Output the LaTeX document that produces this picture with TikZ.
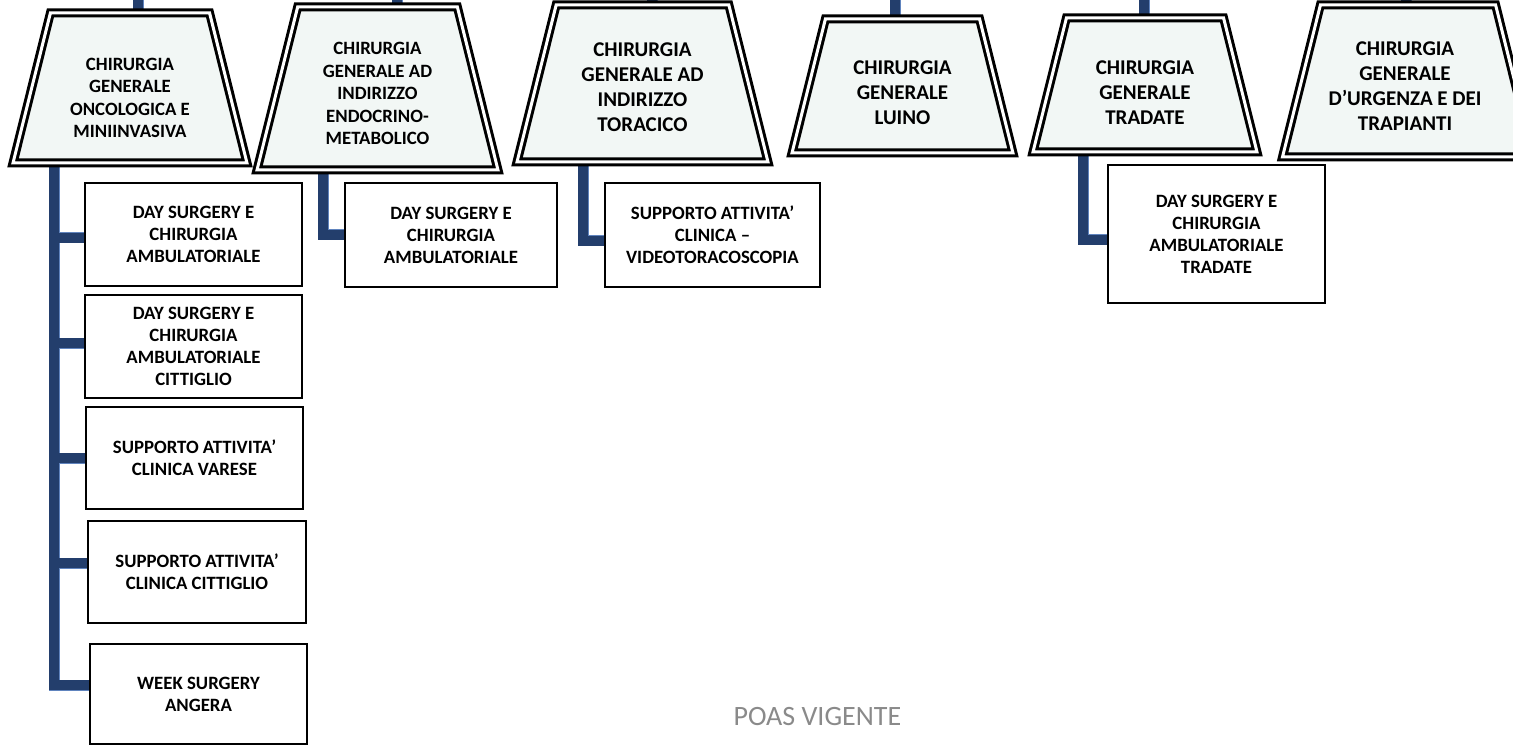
\documentclass[tikz,border=0pt]{standalone}
\usepackage{fontspec}
\setmainfont{Carlito}
\usetikzlibrary{shapes.geometric}
\usetikzlibrary{backgrounds}

\definecolor{unitfill}{RGB}{242,247,245}
\definecolor{busblue}{RGB}{35,62,108}
\definecolor{busedge}{RGB}{96,132,190}
\definecolor{footgrey}{RGB}{138,138,138}

\tikzset{
  unit/.style={trapezium, trapezium left angle=76, trapezium right angle=76,
    trapezium stretches body, draw=black, line width=3pt, double=white,
    double distance=3pt, fill=unitfill, inner xsep=0pt},
  unittext/.style={font=\bfseries\fontsize{18.8}{22.5}\selectfont, align=center},
  bigtext/.style={font=\bfseries\fontsize{21}{25}\selectfont, align=center},
  subunit/.style={rectangle, draw=black, line width=1.8pt, fill=white, align=center,
    inner sep=0pt, minimum width=217pt, minimum height=103pt,
    font=\bfseries\fontsize{18.8}{22}\selectfont},
  busrim/.style={draw=busedge, line width=11pt},
  buscore/.style={draw=busblue, line width=9.2pt},
  foot/.style={font=\fontsize{28}{32}\selectfont, text=footgrey}
}

\begin{document}
\begin{tikzpicture}[x=1pt,y=-1pt]
  \useasboundingbox (0,0) rectangle (1513,746);

  % strutture complesse
  \node [unit, minimum width=234pt, inner ysep=75pt] (onc) at (130,88) {};
  \node [unit, minimum width=241pt, inner ysep=81.5pt] (end) at (377.5,88.5) {};
  \node [unit, minimum width=251pt, inner ysep=78.5pt] (tor) at (642.5,83.5) {};
  \node [unit, minimum width=221pt, inner ysep=67pt] (lui) at (902.5,86) {};
  \node [unit, minimum width=224pt, inner ysep=67pt] (tra) at (1145,85) {};
  \node [unit, minimum width=251pt, inner ysep=76pt] (urg) at (1408,81) {};

  \node [unittext] (onc-t) at ([yshift=-10pt]onc.center) {CHIRURGIA\\GENERALE\\ONCOLOGICA E\\MINIINVASIVA};
  \node [unittext] (end-t) at ([yshift=-5pt]end.center) {CHIRURGIA\\GENERALE AD\\INDIRIZZO\\ENDOCRINO-\\METABOLICO};
  \node [bigtext] (tor-t) at ([yshift=-4pt]tor.center) {CHIRURGIA\\GENERALE AD\\INDIRIZZO\\TORACICO};
  \node [bigtext] (lui-t) at ([yshift=-7pt]lui.center) {CHIRURGIA\\GENERALE\\LUINO};
  \node [bigtext] (tra-t) at ([yshift=-8pt]tra.center) {CHIRURGIA\\GENERALE\\TRADATE};
  \node [bigtext] (urg-t) at ([xshift=-3pt,yshift=-5pt]urg.center) {CHIRURGIA\\GENERALE\\D’URGENZA E DEI\\TRAPIANTI};

  % strutture semplici
  \node [subunit] (onc-ds) at (193.5,234.5) {DAY SURGERY E\\CHIRURGIA\\AMBULATORIALE};
  \node [subunit] (onc-dc) at (193.5,346.5) {DAY SURGERY E\\CHIRURGIA\\AMBULATORIALE\\CITTIGLIO};
  \node [subunit, minimum height=102pt] (onc-sv) at (194.5,458) {SUPPORTO ATTIVITA’\\CLINICA VARESE};
  \node [subunit, minimum width=218pt, minimum height=102pt] (onc-sc) at (197,572) {SUPPORTO ATTIVITA’\\CLINICA CITTIGLIO};
  \node [subunit, minimum height=100pt] (onc-wk) at (198.5,694) {WEEK SURGERY\\ANGERA};
  \node [subunit, minimum width=212pt, minimum height=104pt] (end-ds) at (451,235) {DAY SURGERY E\\CHIRURGIA\\AMBULATORIALE};
  \node [subunit, minimum width=215pt, minimum height=104pt] (tor-vt) at (712.5,235) {SUPPORTO ATTIVITA’\\CLINICA –\\VIDEOTORACOSCOPIA};
  \node [subunit, minimum height=138pt] (tra-ds) at (1216.5,234) {DAY SURGERY E\\CHIRURGIA\\AMBULATORIALE\\TRADATE};

  \node [foot, anchor=base west] (poas) at (730,725) {POAS VIGENTE};

  \coordinate (onc-bus) at (54,0);
  \coordinate (end-bus) at (323,0);
  \coordinate (tor-bus) at (583,0);
  \coordinate (tra-bus) at (1083,0);

  \begin{pgfonlayer}{background}
    % prima il bordo chiaro, poi il tratto scuro
    \foreach \pass in {busrim,buscore}{
      \foreach \u/\x in {onc/138,end/397,tor/652,lui/895,tra/1144,urg/1406}
        \draw [\pass] (\x,0) -- (\x,0 |- \u.north);

      \draw [\pass] (onc-bus |- onc.south) |- ([yshift=9pt]onc-wk.west);
      \foreach \b/\s in {onc-ds/-3.5,onc-dc/3.5,onc-sv/0,onc-sc/9}{
        \coordinate (br) at ([yshift=\s pt]\b.west);
        \draw [\pass] (onc-bus |- br) -- (br);
      }

      \draw [\pass] (end-bus |- end.south) |- (end-ds.west);
      \draw [\pass] (tor-bus |- tor.south) |- ([yshift=-6pt]tor-vt.west);
      \draw [\pass] (tra-bus |- tra.south) |- ([yshift=-6pt]tra-ds.west);
    }
  \end{pgfonlayer}
\end{tikzpicture}
\end{document}
